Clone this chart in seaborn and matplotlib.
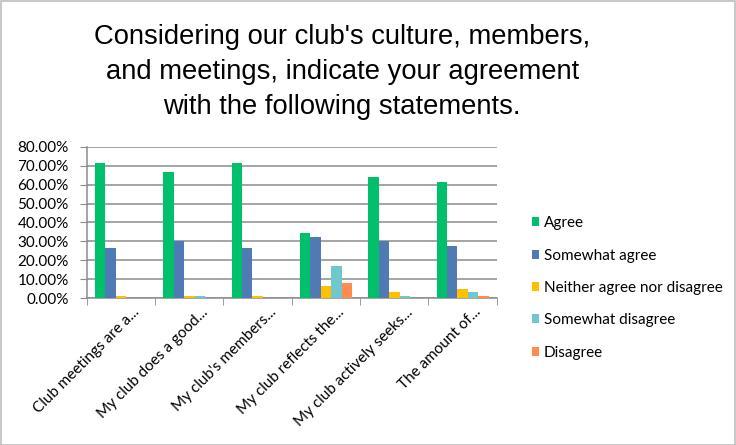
"""
Grouped bar chart of club culture survey responses.
"""
import numpy as np
import pandas as pd
from matplotlib import pyplot as plt
from matplotlib.patches import Patch, Rectangle
from matplotlib.ticker import FuncFormatter, FixedLocator
from matplotlib.transforms import ScaledTranslation
import seaborn as sns

statements = [
    "Club meetings are a...",
    "My club does a good...",
    "My club's members...",
    "My club reflects the...",
    "My club actively seeks...",
    "The amount of...",
]
responses = [
    "Agree",
    "Somewhat agree",
    "Neither agree nor disagree",
    "Somewhat disagree",
    "Disagree",
]
agree = [71.4, 66.7, 71.4, 34.2, 64.1, 61.3]
somewhat_agree = [26.6, 30.1, 26.6, 32.3, 30.3, 27.7]
neither = [1.3, 1.3, 1.3, 6.5, 3.1, 5.0]
somewhat_disagree = [0.0, 1.3, 0.0, 16.9, 1.4, 3.3]
disagree = [0.0, 0.0, 0.0, 8.1, 0.0, 1.4]

colors = ["#00C06B", "#4F7AB4", "#FFC000", "#6EC8CC", "#FF8B4F"]


def plot(outfile):
    data = pd.DataFrame(
        {
            "statement": statements,
            "Agree": agree,
            "Somewhat agree": somewhat_agree,
            "Neither agree nor disagree": neither,
            "Somewhat disagree": somewhat_disagree,
            "Disagree": disagree,
        }
    ).melt(id_vars=["statement"], var_name="response", value_name="pct")

    sns.set_style("white")
    plt.rcParams["font.family"] = ["Lato", "DejaVu Sans"]
    plt.rcParams["text.color"] = "black"
    plt.rcParams["xtick.labelcolor"] = "black"
    plt.rcParams["ytick.labelcolor"] = "black"

    fig = plt.figure(figsize=(7.36, 4.45), dpi=100)
    ax = fig.add_axes([0.118, 0.330, 0.557, 0.340])

    sns.barplot(
        data=data,
        x="statement",
        y="pct",
        hue="response",
        hue_order=responses,
        palette=colors,
        saturation=1.0,
        width=0.76,
        gap=0,
        linewidth=0,
        edgecolor="none",
        ax=ax,
        zorder=3,
        legend=False,
    )

    ax.set_ylim(0, 80)
    ax.set_xlim(-0.5, len(statements) - 0.5)
    ax.yaxis.set_major_locator(FixedLocator(np.arange(0, 81, 10)))
    ax.yaxis.set_major_formatter(FuncFormatter(lambda v, _: "%.2f%%" % v))
    ax.grid(axis="y", color="#8c8c8c", lw=1.1, zorder=0)
    ax.set_axisbelow(True)

    for side in ["top", "right"]:
        ax.spines[side].set_visible(False)
    for side in ["left", "bottom"]:
        ax.spines[side].set_color("#8c8c8c")
        ax.spines[side].set_linewidth(1.1)

    ax.set_xlabel("")
    ax.set_ylabel("")
    ax.tick_params(axis="y", labelsize=11, length=5, color="#8c8c8c",
                   labelcolor="black", left=True, pad=8)
    ax.tick_params(axis="x", which="major", length=0, labelsize=11, pad=5,
                   labelcolor="black")
    ax.set_xticks(np.arange(-0.5, len(statements), 1.0), minor=True)
    ax.tick_params(axis="x", which="minor", length=5, color="#8c8c8c",
                   bottom=True)
    # nudge the rotated labels a little right, like the original
    shift = ScaledTranslation(8 / 72, 0, fig.dpi_scale_trans)
    for lbl in ax.get_xticklabels():
        lbl.set_rotation(45)
        lbl.set_ha("right")
        lbl.set_va("top")
        lbl.set_rotation_mode("anchor")
        lbl.set_transform(lbl.get_transform() + shift)

    # Legend
    handles = [Patch(facecolor=c, edgecolor="none") for c in colors]
    fig.legend(
        handles,
        responses,
        loc="center left",
        bbox_to_anchor=(0.712, 0.353),
        frameon=False,
        fontsize=11,
        borderpad=0,
        handlelength=0.5,
        handleheight=0.5,
        handletextpad=0.3,
        labelspacing=1.2,
    )

    # Title
    fig.text(
        0.465,
        0.945,
        "Considering our club's culture, members,\nand meetings, indicate your agreement\nwith the following statements.",
        ha="center",
        va="top",
        fontsize=19.7,
        family="Liberation Sans",
        color="black",
        linespacing=1.45,
    )

    # Chart border
    fig.patches.append(
        Rectangle((0.001, 0.001), 0.997, 0.997, transform=fig.transFigure,
                  fill=False, edgecolor="#bfbfbf", lw=1.2)
    )

    plt.savefig(outfile, dpi=100)


plot("out.png")
